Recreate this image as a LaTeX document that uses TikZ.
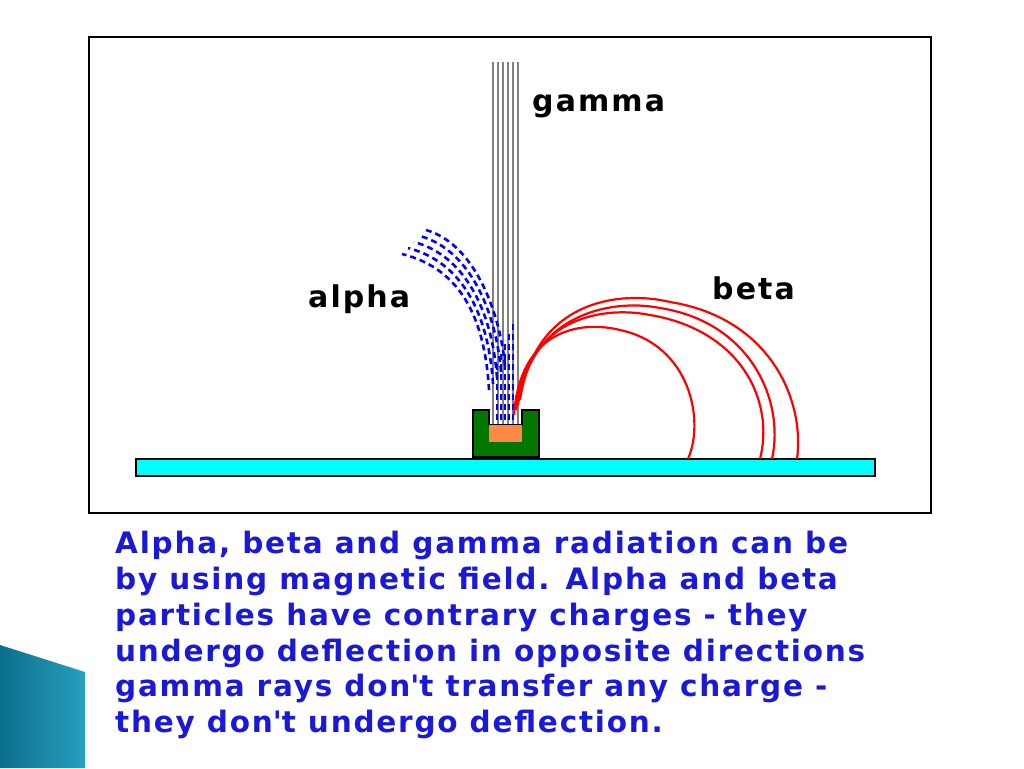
\documentclass[tikz,border=0pt]{standalone}
\usepackage{fontspec}
\setmainfont{DejaVu Sans}
\usepackage{textcomp}
\definecolor{textblue}{RGB}{25,25,215}
\definecolor{barcyan}{RGB}{0,255,255}
\definecolor{srcgreen}{RGB}{0,120,0}
\definecolor{srcorange}{RGB}{255,136,68}
\definecolor{teal1}{RGB}{10,110,140}
\definecolor{teal2}{RGB}{40,160,190}
\tikzset{
  ray/.style={gray, line width=2.4pt},
  alpharay/.style={blue, line width=2.6pt, dash pattern=on 6pt off 4pt},
  betaray/.style={red, line width=2.2pt},
  label/.style={font=\bfseries\fontsize{30}{30}\selectfont\addfontfeatures{LetterSpace=7}, inner sep=0pt},
  caption/.style={font=\bfseries\fontsize{29.5}{35.8}\selectfont\addfontfeatures{LetterSpace=6}, text=textblue, align=left, anchor=north west, inner sep=0pt}
}
\begin{document}
\begin{tikzpicture}[x=1pt, y=-1pt]
  \useasboundingbox (0,0) rectangle (1024,768);
  % decoration
  \shade[left color=teal1, right color=teal2] (0,645) -- (85,672) -- (85,768) -- (0,768) -- cycle;
  % frame
  \draw[line width=2.5pt] (89,37) rectangle (931,513);
  % floor
  \draw[fill=barcyan, line width=1.8pt] (136,459) rectangle (875,476);
  % gamma
  \foreach \x in {493,498,503,508,513,518}
    \draw[ray] (\x,62) -- (\x,425);
  % alpha
  \foreach \i in {0,...,4} {
    \pgfmathsetmacro{\sx}{497+4*\i}
    \pgfmathsetmacro{\ex}{402+6*\i}
    \pgfmathsetmacro{\ey}{254-6*\i}
    \draw[alpharay] (\sx-8,390-6*\i) .. controls (\sx-12,320) and (\sx-35,\ey+15) .. (\ex,\ey);
    \draw[alpharay] (\sx,420) -- (\sx,360-10*\i);
  }
  % beta
  \draw[betaray] (514,415) .. controls (520,330) and (580,320) .. (620,330) .. controls (690,345) and (705,420) .. (688,459);
  \draw[betaray] (516,410) .. controls (525,320) and (600,305) .. (650,315) .. controls (740,330) and (775,400) .. (760,459);
  \draw[betaray] (518,405) .. controls (530,315) and (610,298) .. (660,308) .. controls (750,322) and (785,400) .. (772,459);
  \draw[betaray] (520,400) .. controls (535,300) and (620,290) .. (670,302) .. controls (770,318) and (805,400) .. (797,459);
  % source
  \draw[fill=srcgreen, line width=2pt] (473,410) -- (489,410) -- (489,425) -- (522,425) -- (522,410) -- (539,410) -- (539,457) -- (473,457) -- cycle;
  \fill[srcorange] (489,425) rectangle (522,442);
  % labels
  \node[label, anchor=west] (gamma) at (532,106) {gamma};
  \node[label, anchor=west] (alpha) at (308,299) {alpha};
  \node[label, anchor=west] (beta) at (712,288) {beta};
  % caption
  \node[caption] (text) at (115,531) {Alpha, beta and gamma radiation can be\\
by using magnetic field. Alpha and beta\\
particles have contrary charges - they\\
undergo deflection in opposite directions\\
gamma rays don\textquotesingle t transfer any charge -\\
they don\textquotesingle t undergo deflection.};
\end{tikzpicture}
\end{document}
